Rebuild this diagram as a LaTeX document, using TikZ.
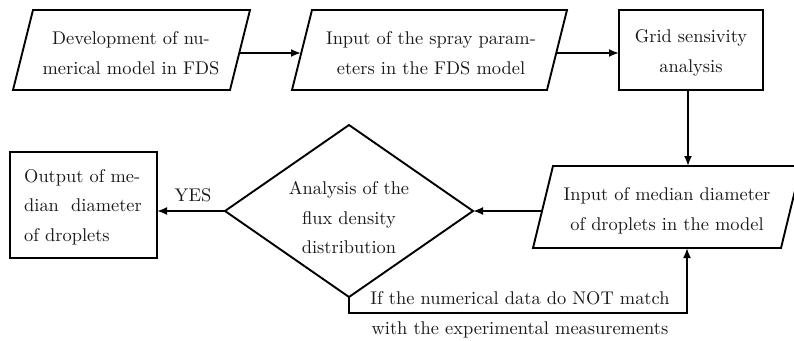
\documentclass[tikz,border=0pt]{standalone}
\usepackage{fontspec}
\setmainfont{lmroman10-regular.otf}
\usetikzlibrary{arrows.meta}
\newcommand{\diagfont}{\fontsize{18.4}{29.5}\selectfont}
\begin{document}
\begin{tikzpicture}[x=1pt,y=-1pt,
  shapeline/.style={line width=1.9pt, line join=miter},
  conn/.style={line width=1.9pt, -{Latex[length=10pt,width=8pt]}},
  txt/.style={align=center, font=\diagfont, inner sep=0pt, text=black!90},
  txtl/.style={align=left, font=\diagfont, inner sep=0pt, text=black!90},
]
\useasboundingbox (0,0) rectangle (794,340);
% shapes
\draw[shapeline] (33,10) -- (250,10) -- (230,90) -- (13,90) -- cycle;
\draw[shapeline] (312,10) -- (567,10) -- (547,90) -- (292,90) -- cycle;
\draw[shapeline] (619,10) rectangle (763,90);
\draw[shapeline] (553,166) -- (801,166) -- (781,248) -- (533,248) -- cycle;
\draw[shapeline] (349,125) -- (473,211) -- (349,297) -- (225,211) -- cycle;
\draw[shapeline] (10,152) rectangle (157,258);
% texts
\node[txt] (b1) at (131,53) {Development of nu-\\merical model in FDS};
\node[txt] (b2) at (431,53) {Input of the spray param-\\eters in the FDS model};
\node[txt] (b3) at (691,53) {Grid sensivity\\analysis};
\node[txt] (b4) at (667,211) {Input of median diameter\\of droplets in the model};
\node[txt] (d) at (349,218) {Analysis of the\\flux density\\distribution};
\node[txtl, anchor=west] (b5) at (24,207) {Output of me-\\dian\ \ diameter\\of droplets};
\node[txt] (yes) at (193,195) {YES};
\node[txt] (nolab) at (520,315) {If the numerical data do NOT match\\with the experimental measurements};
% connector points
\coordinate (b1r) at (239,53);
\coordinate (b2l) at (301,53);
\coordinate (b2r) at (556,53);
\coordinate (b3l) at (619,53);
\coordinate (b3b) at (688,90);
\coordinate (b4t) at (688,166);
\coordinate (b4l) at (542,211);
\coordinate (b4b) at (687,248);
\coordinate (dr) at (473,211);
\coordinate (dl) at (225,211);
\coordinate (db) at (349,297);
\coordinate (b5r) at (157,211);
\coordinate (c1) at (349,313);
\coordinate (c2) at (687,313);
% connectors
\draw[conn] (b1r) -- (b2l);
\draw[conn] (b2r) -- (b3l);
\draw[conn] (b3b) -- (b4t);
\draw[conn] (b4l) -- (dr);
\draw[conn] (dl) -- (b5r);
\draw[conn, line join=miter] (db) -- (c1) -- (c2) -- (b4b);
\end{tikzpicture}
\end{document}
